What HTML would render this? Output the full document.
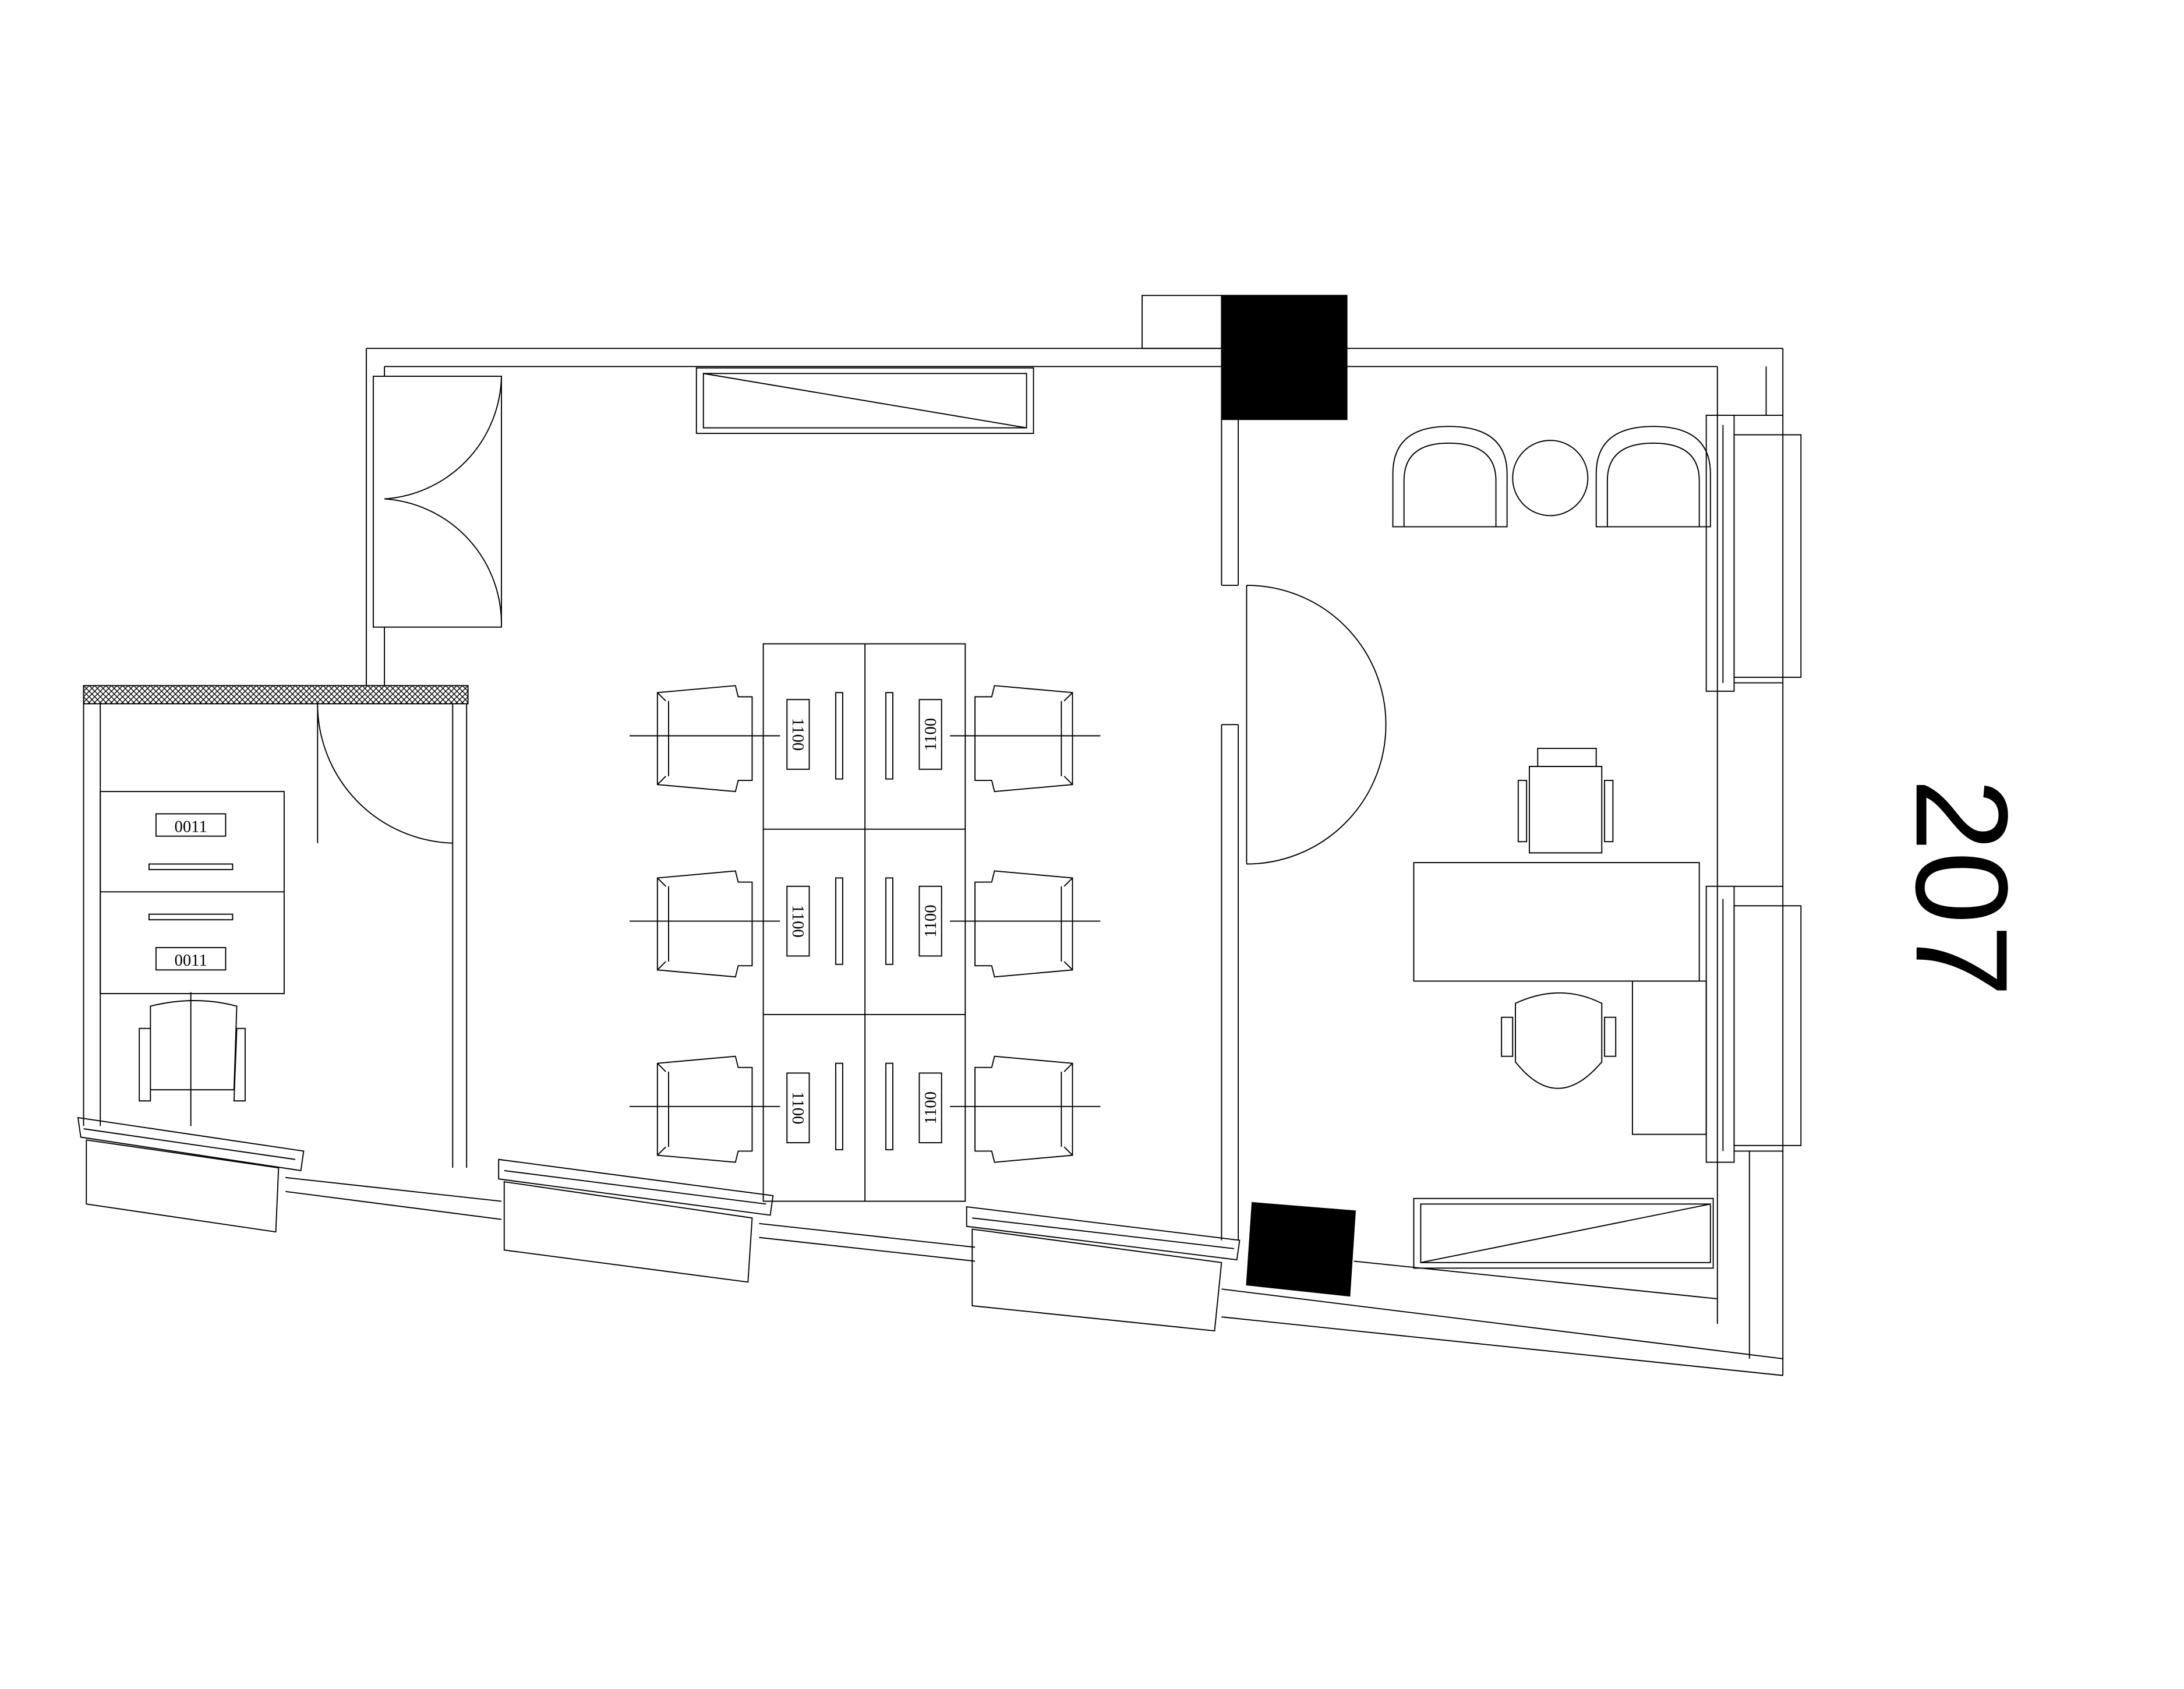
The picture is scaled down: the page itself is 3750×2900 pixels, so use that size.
<!DOCTYPE html>
<html><head><meta charset="utf-8"><style>html,body{margin:0;padding:0;background:#fff}svg{display:block}</style></head>
<body>
<svg width="3750" height="2900" viewBox="0 0 1568 1212" preserveAspectRatio="none" xmlns="http://www.w3.org/2000/svg" fill="none" stroke="#000" stroke-width="0.8">
<defs>
<pattern id="hx" width="4" height="4" patternUnits="userSpaceOnUse"><path d="M0 0L4 4M4 0L0 4" stroke="#000" stroke-width="0.6"/></pattern>
<g id="chairL">
<path d="M472 497 L528 492 L530 500 L540 500 L540 560 L530 560 L528 568 L472 563 Z"/>
<path d="M480 503 L480 557 M472 497 L478 503 M472 563 L478 557"/>
</g>
<g id="chairR">
<path d="M770 497 L714 492 L712 500 L700 500 L700 560 L712 560 L714 568 L770 563 Z"/>
<path d="M762 503 L762 557 M770 497 L764 503 M770 563 L764 557"/>
</g>
</defs>
<path d="M263 250 H877 M276 263 H877 M967 250 H1280 M967 263 H1233"/>
<rect x="820" y="212" width="57" height="38"/>
<rect x="877" y="212" width="90" height="89" fill="#000"/>
<path d="M263 250 V492 M276 263 V270 M276 450 V492"/>
<rect x="268" y="270" width="92" height="180"/>
<path d="M360 270 A90 90 0 0 1 276 358 M360 450 A90 90 0 0 0 276 358"/>
<rect x="500" y="264" width="242" height="47"/>
<rect x="505" y="268" width="232" height="39"/>
<path d="M505 268 L737 307"/>
<rect x="60" y="492" width="276" height="13" fill="url(#hx)"/>
<path d="M60 492 V808 M72 505 V808 M325 505 V838 M335 505 V838"/>
<path d="M228 505 V605 M228 505 A100 100 0 0 0 325 605"/>
<rect x="72" y="568" width="132" height="145"/>
<line x1="72" y1="640" x2="204" y2="640"/>
<rect x="112" y="584" width="50" height="16"/><text x="137" y="597" font-family="Liberation Serif" font-size="12" fill="#000" stroke="none" text-anchor="middle">0011</text>
<rect x="112" y="680" width="50" height="16"/><text x="137" y="693" font-family="Liberation Serif" font-size="12" fill="#000" stroke="none" text-anchor="middle">0011</text>
<rect x="107" y="620" width="60" height="4"/><rect x="107" y="656" width="60" height="4"/>
<path d="M108 722 Q140 714 170 722 L168 782 L108 782 Z M100 738 L108 738 L108 790 L100 790Z M170 738 L176 738 L176 790 L168 790 Z M137 712 V808"/>
<path d="M877 301 V420 M889 301 V420 M877 420 H889 M877 520 V890 M889 520 V890 M877 520 H889"/>
<path d="M895 420 V620 M895 420 A100 100 0 0 1 895 620"/>
<rect x="548" y="462" width="145" height="400"/>
<path d="M621 462 V862 M548 595 H693 M548 728 H693"/>
<rect x="565" y="502" width="16" height="50"/><rect x="660" y="502" width="16" height="50"/>
<rect x="565" y="636" width="16" height="50"/><rect x="660" y="636" width="16" height="50"/>
<rect x="565" y="770" width="16" height="50"/><rect x="660" y="770" width="16" height="50"/>
<rect x="600" y="497" width="5" height="62"/><rect x="636" y="497" width="5" height="62"/>
<rect x="600" y="630" width="5" height="62"/><rect x="636" y="630" width="5" height="62"/>
<rect x="600" y="763" width="5" height="62"/><rect x="636" y="763" width="5" height="62"/>
<g font-family="Liberation Serif" font-size="12" fill="#000" stroke="none" text-anchor="middle">
<text transform="translate(569 527) rotate(90)">1100</text>
<text transform="translate(672 527) rotate(-90)">1100</text>
<text transform="translate(569 661) rotate(90)">1100</text>
<text transform="translate(672 661) rotate(-90)">1100</text>
<text transform="translate(569 795) rotate(90)">1100</text>
<text transform="translate(672 795) rotate(-90)">1100</text>
</g>
<use href="#chairL"/><use href="#chairL" y="133"/><use href="#chairL" y="266"/>
<use href="#chairR"/><use href="#chairR" y="133"/><use href="#chairR" y="266"/>
<path d="M452 528 H560 M452 661 H560 M452 794 H560 M682 528 H790 M682 661 H790 M682 794 H790"/>
<path d="M1280 250 V987 M1268 263 V298 M1233 263 V950 M1245 298 H1280 M1245 490 H1280 M1245 636 H1280 M1245 826 H1280 M1256 826 V975"/>
<rect x="1245" y="312" width="48" height="174"/><rect x="1245" y="650" width="48" height="172"/>
<rect x="1225" y="298" width="20" height="198"/><rect x="1225" y="636" width="20" height="198"/>
<path d="M1237 305 V490 M1237 645 V826"/>
<path d="M1000 378 V340 Q1000 306 1040 306 Q1082 306 1082 340 V378 Z M1008 378 V345 Q1008 318 1040 318 Q1074 318 1074 345 V378"/>
<path d="M1146 378 V340 Q1146 306 1187 306 Q1228 306 1228 340 V378 Z M1154 378 V345 Q1154 318 1187 318 Q1220 318 1220 345 V378"/>
<circle cx="1113" cy="343" r="27"/>
<rect x="1015" y="619" width="205" height="85"/>
<rect x="1172" y="704" width="53" height="110"/>
<path d="M1098 550 H1150 V612 H1098 Z M1104 537 H1146 V550 H1104 Z M1090 560 H1096 V604 H1090Z M1152 560 H1158 V604 H1152Z"/>
<path d="M1088 720 Q1120 705 1150 720 L1150 762 Q1118 800 1088 762 Z M1078 730 H1086 V758 H1078 Z M1152 730 H1160 V758 H1152Z"/>
<rect x="1015" y="860" width="215" height="50"/><rect x="1020" y="864" width="208" height="42"/><path d="M1020 906 L1228 864"/>
<path d="M205 845 L360 862 M205 855 L360 875 M545 878 L700 895 M545 888 L700 905 M877 925 L1280 975 M877 945 L1280 987 M972 905 L1233 932"/>
<path d="M56 802 L218 826 L216 840 L58 816 Z M60 810 L212 832"/>
<path d="M62 818 L200 838 L198 884 L62 864 Z"/>
<path d="M358 832 L555 858 L553 872 L358 846 Z M362 840 L550 864"/>
<path d="M362 848 L540 874 L537 920 L362 897 Z"/>
<path d="M694 866 L890 890 L888 904 L694 880 Z M698 874 L886 896"/>
<path d="M698 882 L877 906 L872 955 L698 937 Z"/>
<path d="M899 863 L973 869 L969 930 L895 922 Z" fill="#000"/>
<text transform="translate(1376 637) rotate(90)" font-family="Liberation Sans" font-size="94" fill="#000" stroke="none" text-anchor="middle">207</text>
</svg>
</body></html>
